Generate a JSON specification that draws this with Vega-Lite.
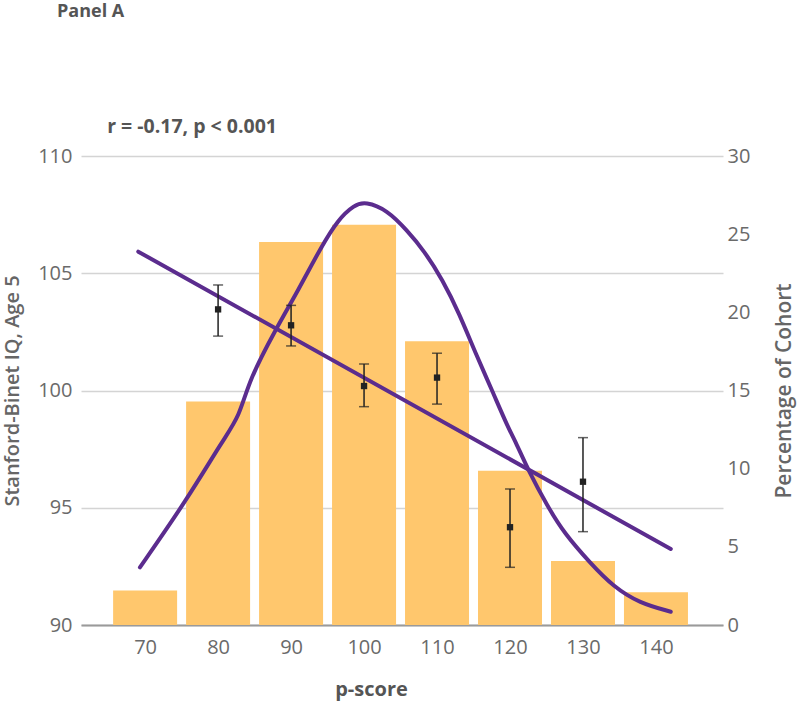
{
  "$schema": "https://vega.github.io/schema/vega-lite/v6.json",
  "width": 642,
  "height": 469,
  "autosize": {"type": "none"},
  "padding": {"left": 81, "top": 156, "right": 77, "bottom": 77},
  "background": "white",
  "config": {"view": {"stroke": null}, "font": "Open Sans"},
  "title": {"text": "Panel A", "anchor": "start", "frame": "group", "fontSize": 18, "fontWeight": "bold", "color": "#555555", "dx": -24, "dy": 16, "offset": 98, "baseline": "alphabetic"},
  "datasets": {
    "bars": [
      {"p": 70, "pct": 2.2},
      {"p": 80, "pct": 14.3},
      {"p": 90, "pct": 24.5},
      {"p": 100, "pct": 25.6},
      {"p": 110, "pct": 18.15},
      {"p": 120, "pct": 9.86},
      {"p": 130, "pct": 4.1},
      {"p": 140, "pct": 2.1}
    ],
    "curve": [
      {"p": 69.29, "pct": 3.69},
      {"p": 75.71, "pct": 8.0},
      {"p": 80.66, "pct": 11.83},
      {"p": 82.91, "pct": 13.32},
      {"p": 84.26, "pct": 15.67},
      {"p": 87.84, "pct": 18.87},
      {"p": 91.0, "pct": 21.43},
      {"p": 94.14, "pct": 24.2},
      {"p": 96.4, "pct": 25.91},
      {"p": 98.64, "pct": 26.87},
      {"p": 100.21, "pct": 27.08},
      {"p": 103.14, "pct": 26.55},
      {"p": 105.84, "pct": 25.27},
      {"p": 108.3, "pct": 23.9},
      {"p": 110.77, "pct": 22.07},
      {"p": 113.03, "pct": 19.94},
      {"p": 115.28, "pct": 17.38},
      {"p": 117.52, "pct": 15.03},
      {"p": 119.77, "pct": 12.58},
      {"p": 120.67, "pct": 11.83},
      {"p": 122.47, "pct": 9.92},
      {"p": 125.17, "pct": 7.57},
      {"p": 127.42, "pct": 5.87},
      {"p": 131.01, "pct": 3.95},
      {"p": 134.16, "pct": 2.45},
      {"p": 137.75, "pct": 1.39},
      {"p": 142.03, "pct": 0.85}
    ],
    "fit": [
      {"p": 69.06, "iq": 105.92},
      {"p": 142.03, "iq": 93.24}
    ],
    "means": [
      {"p": 80, "iq": 103.46, "lo": 102.32, "hi": 104.5},
      {"p": 90, "iq": 102.78, "lo": 101.9, "hi": 103.63},
      {"p": 100, "iq": 100.19, "lo": 99.31, "hi": 101.13},
      {"p": 110, "iq": 100.55, "lo": 99.42, "hi": 101.59},
      {"p": 120, "iq": 94.17, "lo": 92.46, "hi": 95.8},
      {"p": 130, "iq": 96.11, "lo": 93.98, "hi": 97.99}
    ],
    "note": [
      {"p": 64.8, "iq": 110.98, "label": "r = -0.17, p < 0.001"}
    ]
  },
  "encoding": {
    "x": {
      "field": "p",
      "type": "quantitative",
      "scale": {"domain": [61.9, 148.5], "nice": false, "zero": false},
      "axis": {
        "values": [70, 80, 90, 100, 110, 120, 130, 140],
        "grid": false,
        "ticks": false,
        "domain": true,
        "domainColor": "#9a9a9a",
        "domainWidth": 2,
        "labelFontSize": 20,
        "labelColor": "#6a6a6a",
        "labelPadding": 12,
        "title": "p-score",
        "titleFontSize": 20,
        "titleFontWeight": "bold",
        "titleColor": "#555555",
        "titleX": 290,
        "titlePadding": 22
      }
    }
  },
  "layer": [
    {
      "encoding": {
        "y": {
          "field": "pct",
          "type": "quantitative",
          "scale": {"domain": [0, 30], "nice": false},
          "axis": {
            "orient": "right",
            "values": [0, 5, 10, 15, 20, 25, 30],
            "grid": false,
            "ticks": false,
            "domain": false,
            "labelFontSize": 20,
            "labelColor": "#6a6a6a",
            "labelPadding": 4,
            "title": "Percentage of Cohort",
            "titleFontSize": 21,
            "titleFontWeight": 600,
            "titleColor": "#666666",
            "titleAngle": 270,
            "titleBaseline": "top",
            "titlePadding": 24
          }
        }
      },
      "layer": [
        {
          "data": {"name": "bars"},
          "mark": {"type": "bar", "width": 64, "color": "#FFC76D"}
        },
        {
          "data": {"name": "curve"},
          "mark": {"type": "line", "color": "#5B2C8E", "strokeWidth": 4, "strokeCap": "round", "interpolate": "basis"}
        }
      ]
    },
    {
      "encoding": {
        "y": {
          "field": "iq",
          "type": "quantitative",
          "scale": {"domain": [90, 110], "nice": false, "zero": false},
          "axis": {
            "orient": "left",
            "values": [90, 95, 100, 105, 110],
            "grid": true,
            "gridColor": "#d4d4d4",
            "gridWidth": 1.5,
            "ticks": false,
            "domain": false,
            "labelFontSize": 20,
            "labelColor": "#6a6a6a",
            "labelPadding": 9,
            "title": "Stanford-Binet IQ, Age 5",
            "titleFontSize": 20,
            "titleFontWeight": 600,
            "titleColor": "#666666",
            "titlePadding": 15
          }
        }
      },
      "layer": [
        {
          "data": {"name": "fit"},
          "mark": {"type": "line", "color": "#5B2C8E", "strokeWidth": 4, "strokeCap": "round"}
        },
        {
          "data": {"name": "means"},
          "mark": {"type": "errorbar", "ticks": {"size": 10, "thickness": 1.5, "color": "#222222"}, "rule": {"strokeWidth": 1.5, "color": "#222222"}},
          "encoding": {
            "y": {"field": "lo", "type": "quantitative"},
            "y2": {"field": "hi"}
          }
        },
        {
          "data": {"name": "means"},
          "mark": {"type": "point", "shape": "square", "filled": true, "size": 40, "color": "#222222", "opacity": 1}
        },
        {
          "data": {"name": "note"},
          "mark": {"type": "text", "align": "left", "baseline": "alphabetic", "fontSize": 19.5, "fontWeight": "bold", "color": "#555555"},
          "encoding": {"text": {"field": "label"}}
        }
      ]
    }
  ],
  "resolve": {"scale": {"y": "independent"}}
}
